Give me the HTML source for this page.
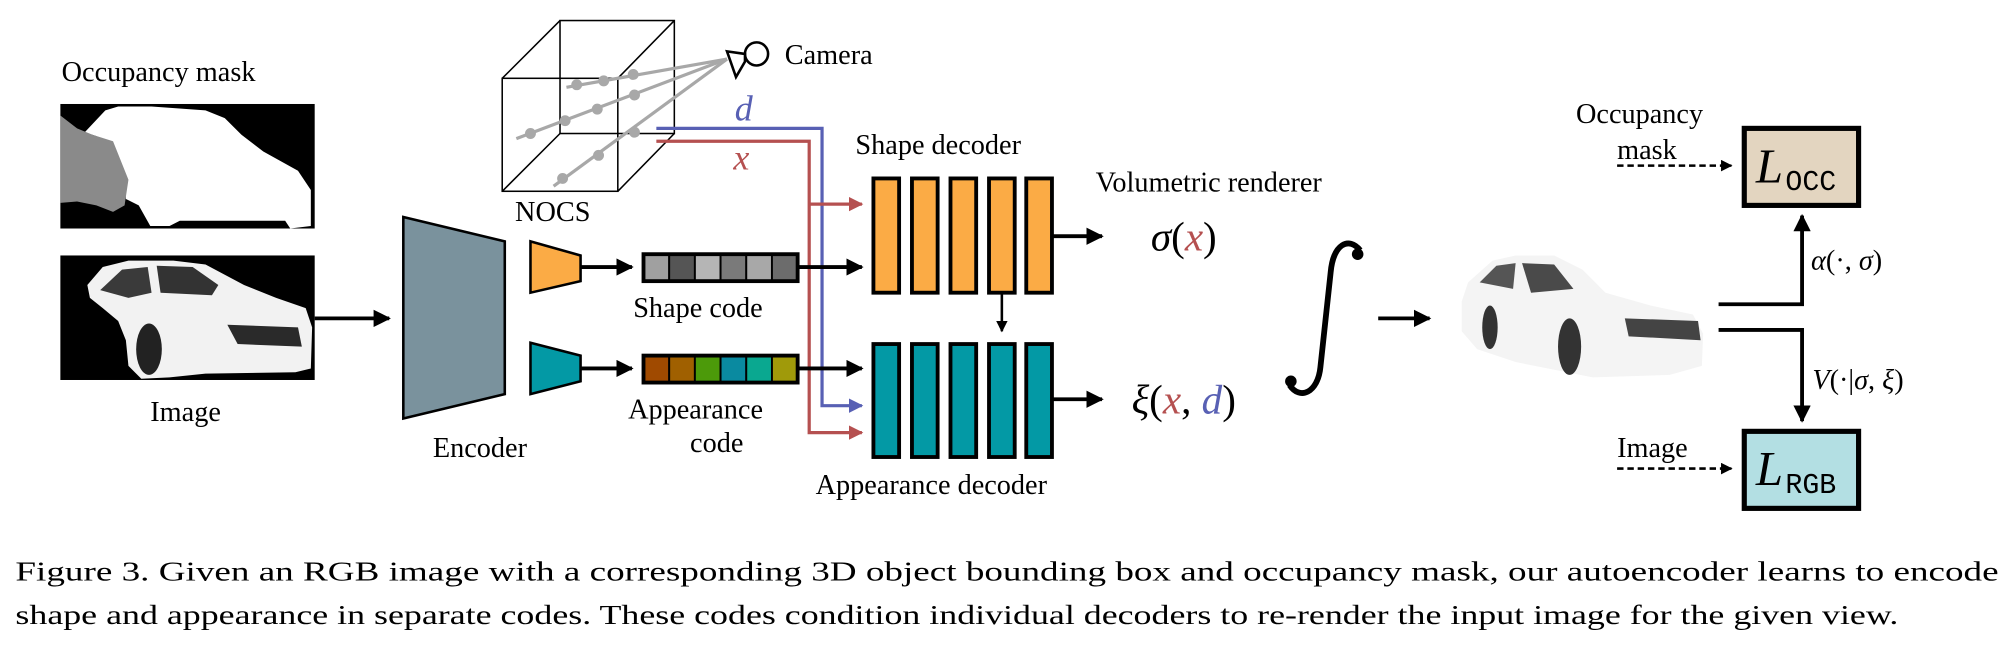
<!DOCTYPE html>
<html><head><meta charset="utf-8"><style>
html,body{margin:0;padding:0;background:#fff;}
svg{display:block;}
text{font-family:"Liberation Serif",serif;fill:#000;}
</style></head><body>
<svg width="2014" height="656" viewBox="0 0 1568 511" preserveAspectRatio="none" xmlns="http://www.w3.org/2000/svg">
<defs>
<marker id="ah" viewBox="0 0 10 10" refX="9" refY="5" markerWidth="4.5" markerHeight="4.5" orient="auto" markerUnits="strokeWidth"><path d="M0,0L10,5L0,10z" fill="#000"/></marker>
<marker id="ahr" viewBox="0 0 10 10" refX="9" refY="5" markerWidth="4.5" markerHeight="4.5" orient="auto" markerUnits="strokeWidth"><path d="M0,0L10,5L0,10z" fill="#b55050"/></marker>
<marker id="ahb" viewBox="0 0 10 10" refX="9" refY="5" markerWidth="4.5" markerHeight="4.5" orient="auto" markerUnits="strokeWidth"><path d="M0,0L10,5L0,10z" fill="#5860b4"/></marker>
</defs>

<!-- Occupancy mask -->
<text x="48" y="63" font-size="22">Occupancy mask</text>
<rect x="47" y="81" width="198" height="97" fill="#000"/>
<path d="M66,103 L82,86 L92,83 L118,83 L160,86 L175,92 L188,105 L205,118 L232,133 L242,148 L242,176 L226,178 L222,172 L140,172 L132,176 L117,176 L108,160 L98,155 L97,140 L88,115 L75,106 Z" fill="#fff"/>
<path d="M47,90 L60,100 L72,105 L88,110 L100,140 L97,160 L88,165 L75,160 L60,157 L47,158 Z" fill="#8a8a8a"/>

<!-- Image -->
<rect x="47" y="199" width="198" height="97" fill="#000"/>
<path d="M68,222 L80,208 L100,203 L135,203 L160,206 L190,222 L215,232 L238,240 L243,255 L242,287 L230,290 L160,291 L132,294 L110,295 L100,285 L98,265 L92,250 L80,240 L70,232 Z" fill="#f2f2f2"/>
<path d="M78,226 L95,210 L115,208 L118,228 L100,232 Z" fill="#3a3a3a"/>
<path d="M122,207 L150,208 L170,222 L165,230 L125,228 Z" fill="#333"/>
<path d="M177,253 L232,255 L235,270 L185,268 Z" fill="#2a2a2a"/>
<ellipse cx="116" cy="272" rx="10" ry="20" fill="#222"/>
<text x="117" y="328" font-size="22">Image</text>

<line x1="245" y1="248" x2="303" y2="248" stroke="#000" stroke-width="3" marker-end="url(#ah)"/>

<!-- Encoder -->
<polygon points="314,169 393,188 393,307 314,326" fill="#7a929d" stroke="#000" stroke-width="2"/>
<text x="337" y="356" font-size="22">Encoder</text>

<polygon points="413,188 452,199 452,219 413,228" fill="#fbab45" stroke="#000" stroke-width="2"/>
<polygon points="413,267 452,277 452,297 413,307" fill="#0399a5" stroke="#000" stroke-width="2"/>
<line x1="452" y1="208" x2="492" y2="208" stroke="#000" stroke-width="3" marker-end="url(#ah)"/>
<line x1="452" y1="287" x2="492" y2="287" stroke="#000" stroke-width="3" marker-end="url(#ah)"/>

<g stroke="#000" stroke-width="1.5">
<rect x="501" y="198" width="20" height="21" fill="#a0a0a0"/>
<rect x="521" y="198" width="20" height="21" fill="#555"/>
<rect x="541" y="198" width="20" height="21" fill="#b5b5b5"/>
<rect x="561" y="198" width="20" height="21" fill="#7a7a7a"/>
<rect x="581" y="198" width="20" height="21" fill="#a8a8a8"/>
<rect x="601" y="198" width="20" height="21" fill="#6c6c6c"/>
<rect x="501" y="277" width="20" height="21" fill="#a04a00"/>
<rect x="521" y="277" width="20" height="21" fill="#a06000"/>
<rect x="541" y="277" width="20" height="21" fill="#4c9a0a"/>
<rect x="561" y="277" width="20" height="21" fill="#0a8aa0"/>
<rect x="581" y="277" width="20" height="21" fill="#0aa890"/>
<rect x="601" y="277" width="20" height="21" fill="#a09a0a"/>
</g>
<rect x="501" y="198" width="120" height="21" fill="none" stroke="#000" stroke-width="3"/>
<rect x="501" y="277" width="120" height="21" fill="none" stroke="#000" stroke-width="3"/>
<text x="493" y="247" font-size="22">Shape code</text>
<text x="489" y="326" font-size="22">Appearance</text>
<text x="558" y="352" font-size="22" text-anchor="middle">code</text>

<!-- NOCS cube -->
<g stroke="#000" stroke-width="1.2" fill="none">
<rect x="391" y="61" width="90" height="88"/>
<rect x="436" y="16" width="89" height="88"/>
<line x1="391" y1="61" x2="436" y2="16"/><line x1="481" y1="61" x2="525" y2="16"/>
<line x1="391" y1="149" x2="436" y2="104"/><line x1="481" y1="149" x2="525" y2="104"/>
</g>
<g stroke="#a8a8a8" stroke-width="2.5" fill="#a8a8a8">
<line x1="566" y1="46" x2="441" y2="68"/>
<line x1="566" y1="46" x2="402" y2="108"/>
<line x1="566" y1="46" x2="431" y2="145"/>
<circle cx="449" cy="66" r="3"/><circle cx="470" cy="63" r="3"/><circle cx="493" cy="58" r="3"/>
<circle cx="413" cy="104" r="3"/><circle cx="440" cy="94" r="3"/><circle cx="465" cy="85" r="3"/><circle cx="494" cy="74" r="3"/>
<circle cx="438" cy="139" r="3"/><circle cx="466" cy="121" r="3"/><circle cx="494" cy="103" r="3"/>
</g>
<circle cx="589" cy="42" r="9" fill="#fff" stroke="#000" stroke-width="2"/>
<polygon points="566,40 580,42 580,48 573,60" fill="#fff" stroke="#000" stroke-width="2"/>
<text x="611" y="50" font-size="22">Camera</text>
<text x="401" y="172" font-size="22">NOCS</text>

<polyline points="511,100 640,100 640,316 671,316" fill="none" stroke="#5860b4" stroke-width="2.5" marker-end="url(#ahb)"/>
<polyline points="511,110 630,110 630,337 671,337" fill="none" stroke="#b55050" stroke-width="2.5" marker-end="url(#ahr)"/>
<line x1="630" y1="159" x2="671" y2="159" stroke="#b55050" stroke-width="2.5" marker-end="url(#ahr)"/>
<text x="572" y="94" font-size="28" font-style="italic" style="fill:#5860b4">d</text>
<text x="571" y="132" font-size="28" font-style="italic" style="fill:#b55050">x</text>

<line x1="621" y1="208" x2="671" y2="208" stroke="#000" stroke-width="3" marker-end="url(#ah)"/>
<line x1="621" y1="287" x2="671" y2="287" stroke="#000" stroke-width="3" marker-end="url(#ah)"/>

<g stroke="#000" stroke-width="3" fill="#fbab45">
<rect x="680" y="139" width="20" height="89"/><rect x="710" y="139" width="20" height="89"/><rect x="740" y="139" width="20" height="89"/><rect x="770" y="139" width="20" height="89"/><rect x="799" y="139" width="20" height="89"/>
</g>
<g stroke="#000" stroke-width="3" fill="#0399a5">
<rect x="680" y="268" width="20" height="88"/><rect x="710" y="268" width="20" height="88"/><rect x="740" y="268" width="20" height="88"/><rect x="770" y="268" width="20" height="88"/><rect x="799" y="268" width="20" height="88"/>
</g>
<line x1="780" y1="228" x2="780" y2="258" stroke="#000" stroke-width="2" marker-end="url(#ah)"/>
<text x="666" y="120" font-size="22">Shape decoder</text>
<text x="635" y="385" font-size="22">Appearance decoder</text>
<line x1="819" y1="184" x2="858" y2="184" stroke="#000" stroke-width="3" marker-end="url(#ah)"/>
<line x1="819" y1="311" x2="858" y2="311" stroke="#000" stroke-width="3" marker-end="url(#ah)"/>

<text x="853" y="149" font-size="22">Volumetric renderer</text>
<text x="896" y="195" font-size="32"><tspan font-style="italic">σ</tspan>(<tspan font-style="italic" style="fill:#b55050">x</tspan>)</text>
<text x="881" y="322" font-size="32"><tspan font-style="italic">ξ</tspan>(<tspan font-style="italic" style="fill:#b55050">x</tspan>, <tspan font-style="italic" style="fill:#5860b4">d</tspan>)</text>

<!-- integral -->
<path d="M1059,195 C1050,184 1038,190 1036,212 L1028,286 C1026,306 1012,312 1004,300" fill="none" stroke="#000" stroke-width="4.5"/>
<circle cx="1057" cy="198" r="4.5" fill="#000"/>
<circle cx="1005" cy="297" r="4.5" fill="#000"/>

<line x1="1073" y1="248" x2="1113" y2="248" stroke="#000" stroke-width="3" marker-end="url(#ah)"/>

<!-- rendered car -->
<path d="M1143,220 L1162,203 L1180,199 L1210,199 L1232,210 L1250,228 L1285,238 L1318,245 L1326,260 L1325,285 L1300,292 L1240,294 L1220,290 L1180,282 L1150,272 L1138,258 L1138,235 Z" fill="#f4f4f4"/>
<path d="M1152,220 L1165,207 L1180,205 L1178,225 Z" fill="#555"/>
<path d="M1185,205 L1210,206 L1225,225 L1192,228 Z" fill="#4a4a4a"/>
<path d="M1265,248 L1322,250 L1324,265 L1268,262 Z" fill="#444"/>
<ellipse cx="1160" cy="255" rx="6" ry="17" fill="#333"/>
<ellipse cx="1222" cy="270" rx="9" ry="22" fill="#333"/>

<polyline points="1338,237 1403,237 1403,168" fill="none" stroke="#000" stroke-width="3" marker-end="url(#ah)"/>
<polyline points="1338,257 1403,257 1403,328" fill="none" stroke="#000" stroke-width="3" marker-end="url(#ah)"/>
<text x="1410" y="210" font-size="22"><tspan font-style="italic">α</tspan>(·, <tspan font-style="italic">σ</tspan>)</text>
<text x="1411" y="303" font-size="22"><tspan font-style="italic">V</tspan>(·|<tspan font-style="italic">σ</tspan>, <tspan font-style="italic">ξ</tspan>)</text>

<rect x="1358" y="100" width="89" height="60" fill="#e3d5c0" stroke="#000" stroke-width="4"/>
<rect x="1358" y="336" width="89" height="60" fill="#b3dfe3" stroke="#000" stroke-width="4"/>
<text x="1367" y="142" font-size="38" font-style="italic">L</text>
<text x="1390" y="148" font-size="22" style="font-family:'Liberation Mono',monospace">OCC</text>
<text x="1367" y="378" font-size="38" font-style="italic">L</text>
<text x="1390" y="384" font-size="22" style="font-family:'Liberation Mono',monospace">RGB</text>

<text x="1227" y="96" font-size="22">Occupancy</text>
<text x="1259" y="124" font-size="22">mask</text>
<line x1="1259" y1="129" x2="1348" y2="129" stroke="#000" stroke-width="2" stroke-dasharray="5,3" marker-end="url(#ah)"/>
<text x="1259" y="356" font-size="22">Image</text>
<line x1="1259" y1="365" x2="1348" y2="365" stroke="#000" stroke-width="2" stroke-dasharray="5,3" marker-end="url(#ah)"/>

<text x="12" y="452" font-size="21" textLength="1544" lengthAdjust="spacingAndGlyphs">Figure 3.  Given an RGB image with a corresponding 3D object bounding box and occupancy mask, our autoencoder learns to encode</text>
<text x="12" y="486" font-size="21" textLength="1466" lengthAdjust="spacingAndGlyphs">shape and appearance in separate codes. These codes condition individual decoders to re-render the input image for the given view.</text>
</svg>
</body></html>
